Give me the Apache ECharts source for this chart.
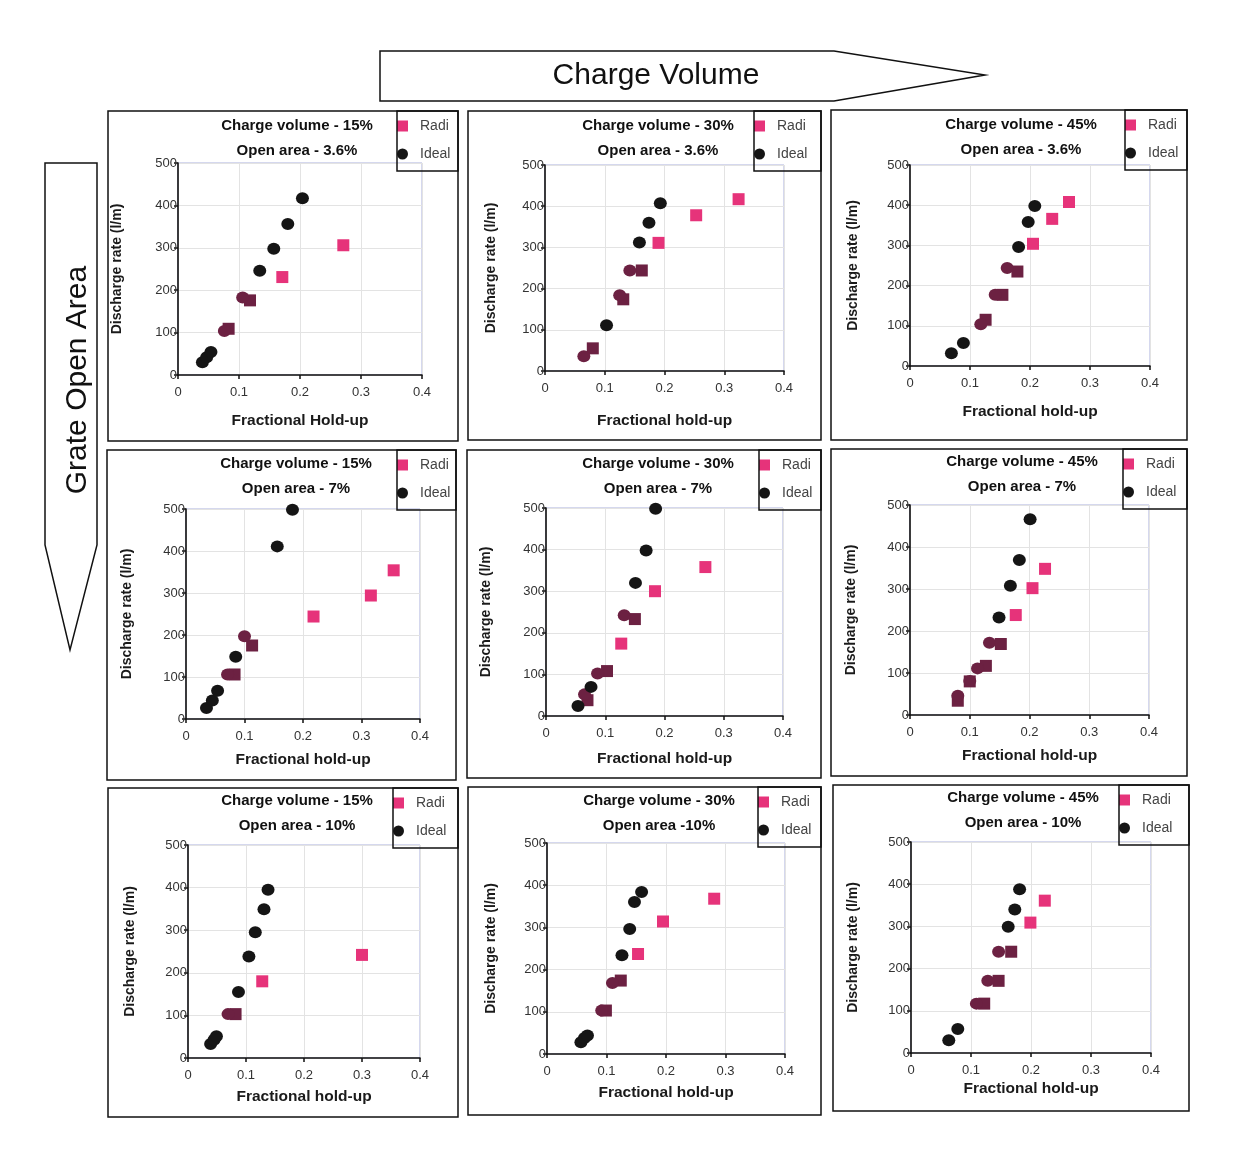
<!DOCTYPE html>
<html>
<head>
<meta charset="utf-8">
<title>Discharge rate vs fractional hold-up</title>
<script src="https://cdn.jsdelivr.net/npm/echarts@6/dist/echarts.min.js"></script>
<style>
html, body { margin: 0; padding: 0; background: #fff; }
#container { width: 1233px; height: 1167px; }
</style>
</head>
<body>
<div id="container"></div>
<script>
// axis ticks
var holdupTicks = [0, 0.1, 0.2, 0.3, 0.4];
var rateTicks = [0, 100, 200, 300, 400, 500];

// panel texts (row = open area, column = charge volume)
var chargeTitles = ['Charge volume - 15%', 'Charge volume - 30%', 'Charge volume - 45%',
                    'Charge volume - 15%', 'Charge volume - 30%', 'Charge volume - 45%',
                    'Charge volume - 15%', 'Charge volume - 30%', 'Charge volume - 45%'];
var openTitles = ['Open area - 3.6%', 'Open area - 3.6%', 'Open area - 3.6%',
                  'Open area - 7%', 'Open area - 7%', 'Open area - 7%',
                  'Open area - 10%', 'Open area -10%', 'Open area - 10%'];
var xNames = ['Fractional Hold-up', 'Fractional hold-up', 'Fractional hold-up',
              'Fractional hold-up', 'Fractional hold-up', 'Fractional hold-up',
              'Fractional hold-up', 'Fractional hold-up', 'Fractional hold-up'];
var yName = 'Discharge rate (l/m)';

// [fractional hold-up, discharge rate]
var radial_15_36 = [[0.083,109],[0.118,176],[0.171,231],[0.271,306]];
var ideal_15_36  = [[0.040,30],[0.047,42],[0.054,54],[0.076,104],[0.106,183],[0.134,246],[0.157,298],[0.180,356],[0.204,417]];
var radial_30_36 = [[0.080,55],[0.131,174],[0.162,244],[0.190,311],[0.253,378],[0.324,417]];
var ideal_30_36  = [[0.065,36],[0.103,111],[0.125,184],[0.142,244],[0.158,312],[0.174,360],[0.193,407]];
var radial_45_36 = [[0.126,115],[0.154,177],[0.179,235],[0.205,304],[0.237,366],[0.265,408]];
var ideal_45_36  = [[0.069,32],[0.089,57],[0.118,104],[0.142,177],[0.162,244],[0.181,296],[0.197,358],[0.208,398]];

var radial_15_7 = [[0.083,106],[0.113,175],[0.218,244],[0.316,294],[0.355,354]];
var ideal_15_7  = [[0.035,26],[0.045,44],[0.054,67],[0.071,106],[0.085,148],[0.100,197],[0.156,411],[0.182,498]];
var radial_30_7 = [[0.070,38],[0.103,108],[0.127,174],[0.150,233],[0.184,300],[0.269,358]];
var ideal_30_7  = [[0.054,24],[0.065,52],[0.076,70],[0.087,102],[0.132,242],[0.151,320],[0.169,398],[0.185,498]];
var radial_45_7 = [[0.080,34],[0.100,80],[0.127,117],[0.152,169],[0.177,238],[0.205,302],[0.226,348]];
var ideal_45_7  = [[0.080,46],[0.100,81],[0.113,111],[0.133,172],[0.149,232],[0.168,308],[0.183,369],[0.201,466]];

var radial_15_10 = [[0.082,103],[0.128,180],[0.300,242]];
var ideal_15_10  = [[0.039,33],[0.045,43],[0.049,51],[0.069,103],[0.087,155],[0.105,238],[0.116,295],[0.131,349],[0.138,395]];
var radial_30_10 = [[0.099,103],[0.124,174],[0.153,237],[0.195,314],[0.281,368]];
var ideal_30_10  = [[0.057,28],[0.063,38],[0.068,44],[0.092,103],[0.110,168],[0.126,234],[0.139,296],[0.147,360],[0.159,384]];
var radial_45_10 = [[0.122,117],[0.146,171],[0.167,240],[0.199,309],[0.223,361]];
var ideal_45_10  = [[0.063,30],[0.078,57],[0.109,117],[0.128,171],[0.146,240],[0.162,299],[0.173,340],[0.181,388]];

var radialData = [radial_15_36, radial_30_36, radial_45_36, radial_15_7, radial_30_7, radial_45_7, radial_15_10, radial_30_10, radial_45_10];
var idealData  = [ideal_15_36, ideal_30_36, ideal_45_36, ideal_15_7, ideal_30_7, ideal_45_7, ideal_15_10, ideal_30_10, ideal_45_10];

// page layout of the 9 panels
var layout = [
  {box:[108,111,458,441], plot:[178,163,422,375], title:[297,113], leg:397, xNameY:421, yNameX:117},
  {box:[468,111,821,440], plot:[545,165,784,371], title:[658,113], leg:754, xNameY:421, yNameX:491},
  {box:[831,110,1187,440], plot:[910,165,1150,366], title:[1021,112], leg:1125, xNameY:412, yNameX:853},
  {box:[107,450,456,780], plot:[186,509,420,719], title:[296,451], leg:397, xNameY:760, yNameX:127},
  {box:[467,450,821,778], plot:[546,508,783,716], title:[658,451], leg:759, xNameY:759, yNameX:486},
  {box:[831,449,1187,776], plot:[910,505,1149,715], title:[1022,449], leg:1123, xNameY:756, yNameX:851},
  {box:[108,788,458,1117], plot:[188,845,420,1058], title:[297,788], leg:393, xNameY:1097, yNameX:130},
  {box:[468,787,821,1115], plot:[547,843,785,1054], title:[659,788], leg:758, xNameY:1093, yNameX:491},
  {box:[833,785,1189,1111], plot:[911,842,1151,1053], title:[1023,785], leg:1119, xNameY:1089, yNameX:853}
];

var FONT = '"Liberation Sans", Arial, sans-serif';
var PINK = '#e6337a', BLACK = '#151515', MAROON = '#6c2142';

// points of both series that sit on top of each other print as one dark blob
function pxDist(a, b) {
  var dx = (a[0] - b[0]) * 600, dy = (a[1] - b[1]) * 0.42;
  return Math.sqrt(dx * dx + dy * dy);
}
function overlapFlags(rad, ide) {
  var rf = rad.map(function () { return false; });
  var inf = ide.map(function () { return false; });
  rad.forEach(function (r, ri) {
    var best = -1, bd = 1e9;
    ide.forEach(function (p, ii) {
      var d = pxDist(r, p);
      if (d < bd) { bd = d; best = ii; }
    });
    if (bd < 14) { rf[ri] = true; inf[best] = true; }
  });
  return [rf, inf];
}
function styled(points, flags) {
  return points.map(function (p, k) {
    return flags[k] ? {value: p, itemStyle: {color: MAROON}} : p;
  });
}

var grids = [], xAxes = [], yAxes = [], series = [], legends = [], titles = [];
var graphics = [];

layout.forEach(function (L, i) {
  var p = L.plot;
  grids.push({
    left: p[0], top: p[1], width: p[2] - p[0], height: p[3] - p[1],
    show: true, borderColor: '#abb0dc', borderWidth: 1
  });
  xAxes.push({
    gridIndex: i, type: 'value',
    min: holdupTicks[0], max: holdupTicks[holdupTicks.length - 1], interval: holdupTicks[1] - holdupTicks[0],
    name: xNames[i], nameLocation: 'middle', nameGap: L.xNameY - p[3] - 8,
    nameTextStyle: {fontFamily: FONT, fontWeight: 'bold', fontSize: 15.5, color: '#1a1a1a'},
    axisLine: {onZero: false, lineStyle: {color: '#111', width: 1.6}},
    axisTick: {show: true, length: 4, lineStyle: {color: '#111', width: 1.5}},
    axisLabel: {margin: 11, fontSize: 13, color: '#333', fontFamily: FONT},
    splitLine: {show: true, lineStyle: {color: '#e3e3e3'}}
  });
  yAxes.push({
    gridIndex: i, type: 'value',
    min: rateTicks[0], max: rateTicks[rateTicks.length - 1], interval: rateTicks[1] - rateTicks[0],
    name: yName, nameLocation: 'middle', nameGap: p[0] - L.yNameX - 7,
    nameTextStyle: {fontFamily: FONT, fontWeight: 'bold', fontSize: 14, color: '#1a1a1a'},
    axisLine: {show: true, onZero: false, lineStyle: {color: '#111', width: 1.6}},
    axisTick: {show: true, length: 4, lineStyle: {color: '#111', width: 1.5}},
    axisLabel: {margin: 1, fontSize: 13, color: '#333', fontFamily: FONT},
    splitLine: {show: true, lineStyle: {color: '#e3e3e3'}}
  });

  var flags = overlapFlags(radialData[i], idealData[i]);
  series.push({
    name: 'Radial', type: 'scatter', xAxisIndex: i, yAxisIndex: i,
    symbol: 'rect', symbolSize: 12, itemStyle: {color: PINK, opacity: 1},
    emphasis: {disabled: true},
    data: styled(radialData[i], flags[0])
  });
  series.push({
    name: 'Ideal', type: 'scatter', xAxisIndex: i, yAxisIndex: i,
    symbol: 'circle', symbolSize: [13, 12], itemStyle: {color: BLACK, opacity: 1},
    emphasis: {disabled: true},
    data: styled(idealData[i], flags[1])
  });

  titles.push({
    text: chargeTitles[i] + '\n' + openTitles[i],
    left: L.title[0], top: L.title[1], textAlign: 'center', padding: 0,
    textStyle: {fontFamily: FONT, fontWeight: 'bold', fontSize: 15, color: '#111', lineHeight: 25}
  });

  // legend text is cut by the panel frame
  var textW = Math.min(36, Math.max(33, L.box[2] - L.leg - 30));
  legends.push({
    left: L.leg, top: L.box[1], orient: 'vertical', padding: [7, 0, 10, 0],
    itemGap: 12, itemWidth: 25, itemHeight: 11, selectedMode: false,
    data: [{name: 'Radial', icon: 'path://M0,0H10V10H0Z'}, {name: 'Ideal', icon: 'circle'}],
    textStyle: {fontFamily: FONT, fontSize: 14, color: '#444', lineHeight: 16,
                width: textW, overflow: 'truncate', ellipsis: ''}
  });

  // legend frame and panel frame
  graphics.push({
    type: 'rect', z: 100,
    shape: {x: L.leg, y: L.box[1], width: L.box[2] - L.leg, height: 60},
    style: {fill: 'none', stroke: '#111', lineWidth: 1.5}
  });
  graphics.push({
    type: 'rect', z: 100,
    shape: {x: L.box[0], y: L.box[1], width: L.box[2] - L.box[0], height: L.box[3] - L.box[1]},
    style: {fill: 'none', stroke: '#111', lineWidth: 1.5}
  });
});

// the two direction arrows
graphics.push({
  type: 'polygon', z: 90,
  shape: {points: [[380,51],[834,51],[985,75],[834,101],[380,101]]},
  style: {fill: '#fff', stroke: '#111', lineWidth: 1.5}
});
graphics.push({
  type: 'text', z: 91, x: 656, y: 76,
  style: {text: 'Charge Volume', fontFamily: FONT, fontSize: 30, fill: '#111', align: 'center', verticalAlign: 'middle'}
});
graphics.push({
  type: 'polygon', z: 90,
  shape: {points: [[45,163],[97,163],[97,545],[70,650],[45,545]]},
  style: {fill: '#fff', stroke: '#111', lineWidth: 1.5}
});
graphics.push({
  type: 'text', z: 91, x: 78, y: 380, rotation: Math.PI / 2,
  style: {text: 'Grate Open Area', fontFamily: FONT, fontSize: 30, fill: '#111', align: 'center', verticalAlign: 'middle'}
});

var chart = echarts.init(document.getElementById('container'));
chart.setOption({
  backgroundColor: '#fff',
  animation: false,
  title: titles,
  legend: legends,
  grid: grids,
  xAxis: xAxes,
  yAxis: yAxes,
  series: series,
  graphic: graphics
});
</script>
</body>
</html>
